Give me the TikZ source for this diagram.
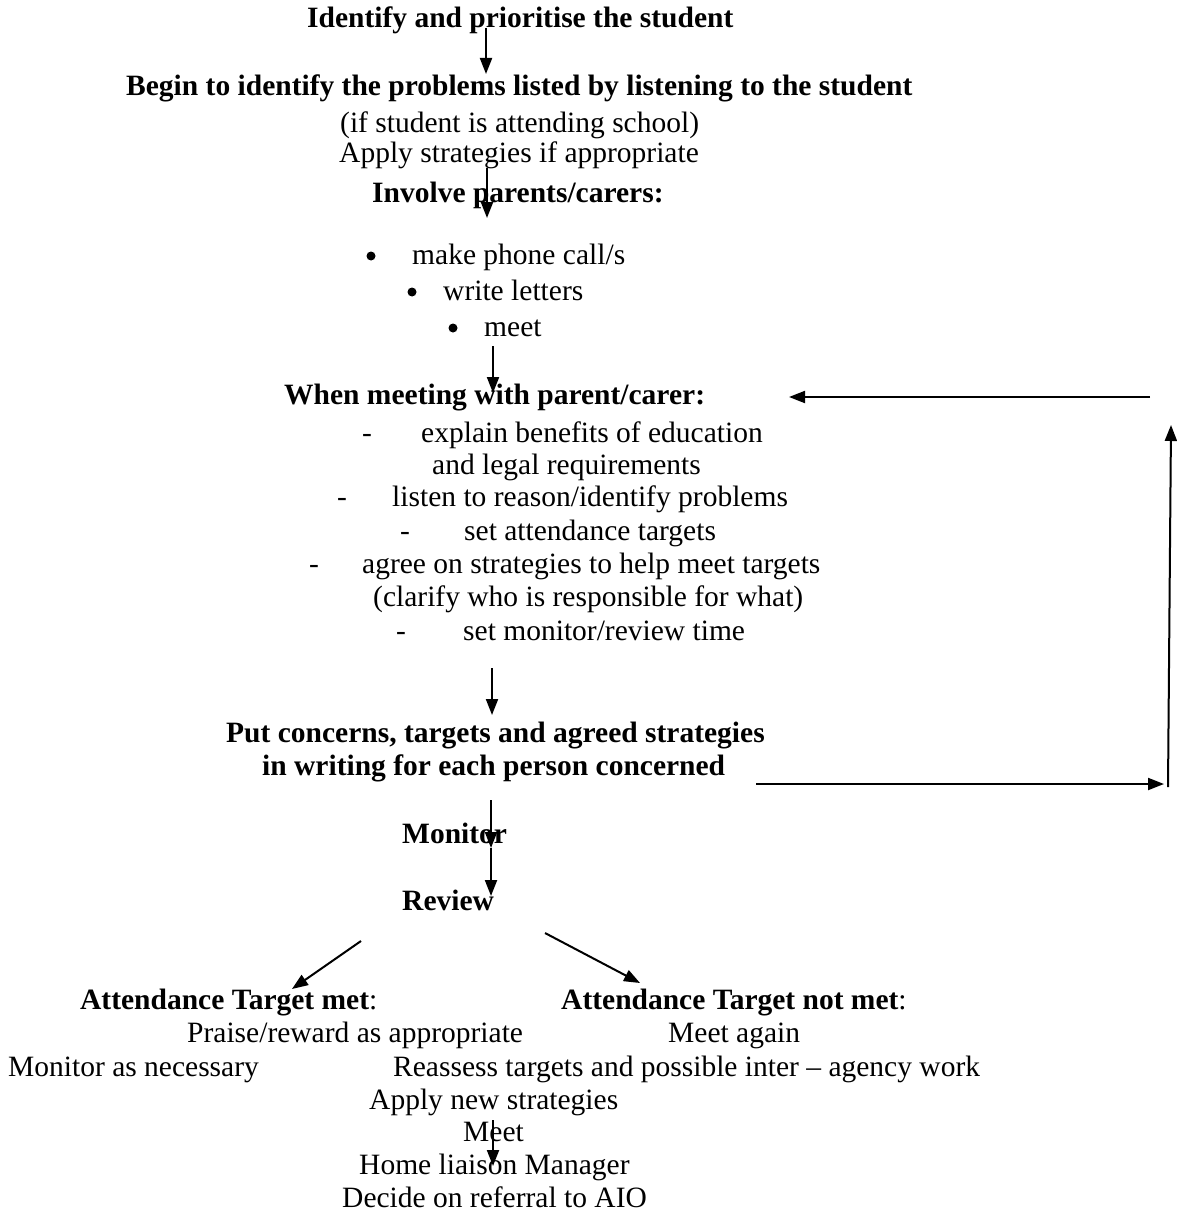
\documentclass[tikz,border=0pt]{standalone}
\usepackage{fontspec}
\setmainfont{Liberation Serif}
\usetikzlibrary{arrows.meta}
\tikzset{
    txt/.style = {inner sep=0pt, anchor=mid west, font=\fontsize{29.5}{33}\selectfont, text=black},
    txtb/.style = {inner sep=0pt, anchor=mid west, font=\fontsize{29.5}{33}\selectfont\bfseries, text=black},
    dot/.style = {circle, fill=black, inner sep=0pt, minimum size=9pt},
    arr/.style = {-{Triangle[length=16pt,width=12pt]}, line width=2pt, black}
}
\begin{document}
\begin{tikzpicture}[x=1pt,y=-1pt]
\useasboundingbox (0,0) rectangle (1176,1220);

\node[txtb] at (307,   25) (identify) {Identify and prioritise the student};
\node[txtb] at (126,   93) (begin) {Begin to identify the problems listed by listening to the student};
\node[txt]  at (340,  130) (ifschool) {(if student is attending school)};
\node[txt]  at (339,  160) (applyif) {Apply strategies if appropriate};
\node[txtb] at (372,  200) (involve) {Involve parents/carers:};
\node[dot]  at (371,  256) (b1) {};
\node[txt]  at (412,  262) (i1) {make phone call/s};
\node[dot]  at (412,  292) (b2) {};
\node[txt]  at (443,  298) (i2) {write letters};
\node[dot]  at (453,  328) (b3) {};
\node[txt]  at (484,  334) (i3) {meet};
\node[txtb] at (284,  402) (when) {When meeting with parent/carer:};
\node[txt]  at (362,  440) (d1) {-};
\node[txt]  at (421,  440) (w1) {explain benefits of education};
\node[txt]  at (432,  472) (w1b) {and legal requirements};
\node[txt]  at (337,  504) (d2) {-};
\node[txt]  at (392,  504) (w2) {listen to reason/identify problems};
\node[txt]  at (400,  538) (d3) {-};
\node[txt]  at (464,  538) (w3) {set attendance targets};
\node[txt]  at (309,  571) (d4) {-};
\node[txt]  at (362,  571) (w4) {agree on strategies to help meet targets};
\node[txt]  at (373,  604) (w4b) {(clarify who is responsible for what)};
\node[txt]  at (396,  638) (d5) {-};
\node[txt]  at (463,  638) (w5) {set monitor/review time};
\node[txtb] at (226,  740) (put) {Put concerns, targets and agreed strategies};
\node[txtb] at (262,  773) (inwriting) {in writing for each person concerned};
\node[txtb] at (402,  841) (monitor) {Monitor};
\node[txtb] at (402,  908) (review) {Review};
\node[txt]  at ( 80, 1007) (tmet) {\textbf{Attendance Target met}:};
\node[txt]  at (561, 1007) (tnotmet) {\textbf{Attendance Target not met}:};
\node[txt]  at (187, 1040) (praise) {Praise/reward as appropriate};
\node[txt]  at (668, 1040) (meetagain) {Meet again};
\node[txt]  at (  8, 1074) (monas) {Monitor as necessary};
\node[txt]  at (393, 1074) (reassess) {Reassess targets and possible inter – agency work};
\node[txt]  at (369, 1107) (applynew) {Apply new strategies};
\node[txt]  at (463, 1139) (meet) {Meet};
\node[txt]  at (359, 1172) (home) {Home liaison Manager};
\node[txt]  at (342, 1205) (decide) {Decide on referral to AIO};

% arrow ends
\coordinate (a1s) at (486,   28); \coordinate (a1e) at (486,   74);
\coordinate (a2s) at (487,  168); \coordinate (a2e) at (487,  218);
\coordinate (a3s) at (493,  346); \coordinate (a3e) at (493,  393);
\coordinate (a4s) at (1150, 397); \coordinate (a4e) at (789,  397);
\coordinate (a5s) at (492,  668); \coordinate (a5e) at (492,  715);
\coordinate (a6s) at (756,  784); \coordinate (a6e) at (1164, 784);
\coordinate (a7s) at (1168, 787); \coordinate (a7e) at (1171, 425);
\coordinate (a8s) at (491,  800); \coordinate (a8e) at (491,  848);
\coordinate (a9e) at (491,  896);
\coordinate (a10s) at (361, 941); \coordinate (a10e) at (292, 989);
\coordinate (a11s) at (545, 933); \coordinate (a11e) at (640, 983);
\coordinate (a12s) at (493, 1120); \coordinate (a12e) at (493, 1166);

\draw[arr] (a1s) -- (a1e);
\draw[arr] (a2s) -- (a2e);
\draw[arr] (a3s) -- (a3e);
\draw[arr] (a4s) -- (a4e);
\draw[arr] (a5s) -- (a5e);
\draw[arr] (a6s) -- (a6e);
\draw[arr] (a7s) -- (a7e);
\draw[arr] (a8s) -- (a8e);
\draw[arr] (a8e) -- (a9e);
\draw[arr] (a10s) -- (a10e);
\draw[arr] (a11s) -- (a11e);
\draw[arr] (a12s) -- (a12e);

\end{tikzpicture}
\end{document}
